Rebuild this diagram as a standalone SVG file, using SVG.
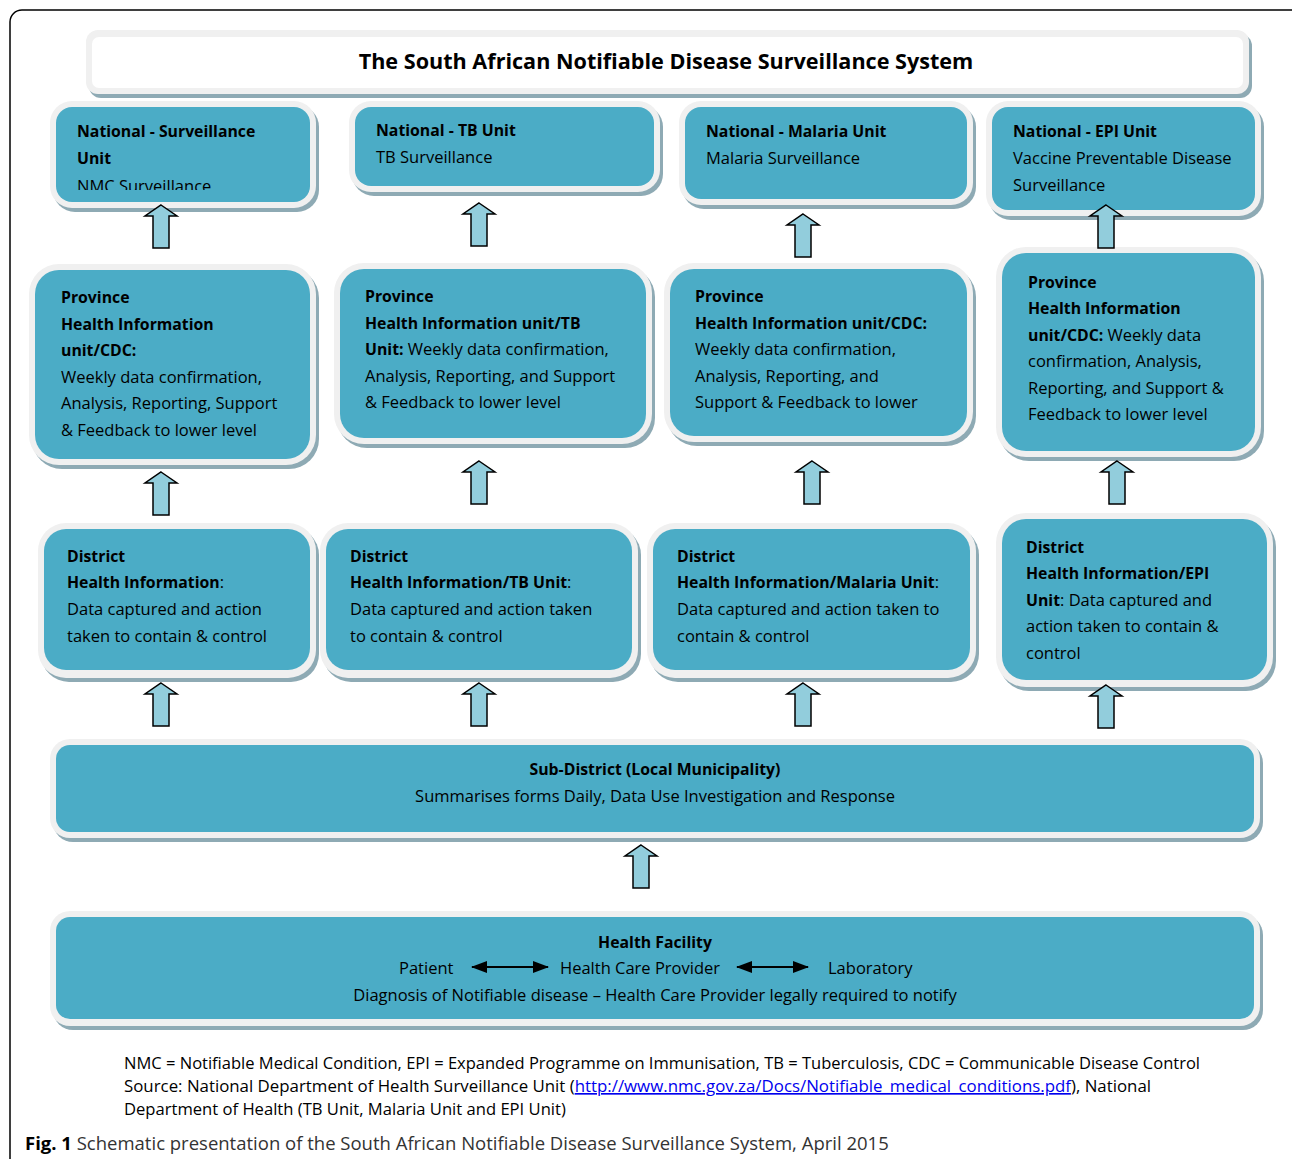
<svg xmlns="http://www.w3.org/2000/svg" width="1292" height="1159" viewBox="0 0 1292 1159">
<style>
.sh{fill:#8eaab4}
.ob{fill:#f0f0f0}
.ib{fill:#4bacc6}
.tb{fill:#ffffff}
text{font-family:"Open Sans","Noto Sans","Liberation Sans",sans-serif;fill:#000}
.t{font-size:16.5px}
.b{font-weight:bold;font-size:15.8px}
.title{font-size:21.6px;font-weight:bold}
.fn{font-size:16.6px}
.cap{font-size:18.5px;fill:#333}
.arr{fill:#92cddc;stroke:#000;stroke-width:1.5;stroke-linejoin:miter}
</style>
<defs>
<path id="up" d="M0,0 L16,11 L8,11 L8,43 L-8,43 L-8,11 L-16,11 Z"/>
<marker id="ah" viewBox="0 0 16 12" refX="15" refY="6" markerWidth="16" markerHeight="12" markerUnits="userSpaceOnUse" orient="auto-start-reverse">
<path d="M0,0 L16,6 L0,12 Z" fill="#000"/>
</marker>
<clipPath id="clipN1"><rect x="56" y="107" width="254" height="83"/></clipPath>
</defs>

<rect x="10" y="10" width="1300" height="1200" rx="12" fill="none" stroke="#000" stroke-width="1.5"/>

<g id="title">
<rect class="sh" x="89" y="34" width="1163" height="64" rx="12"/>
<rect class="ob" x="86" y="30" width="1163" height="64" rx="12"/>
<rect class="tb" x="92" y="37" width="1151" height="51" rx="7"/>
<text class="title" x="666" y="69" text-anchor="middle">The South African Notifiable Disease Surveillance System</text>
</g>

<!-- National row -->
<g id="nat-surv">
<rect class="sh" x="53" y="105" width="266" height="107" rx="22"/>
<rect class="ob" x="50" y="101" width="266" height="107" rx="22"/>
<rect class="ib" x="56" y="107" width="254" height="95" rx="16"/>
<text class="t b" x="77" y="137">National - Surveillance</text>
<text class="t b" x="77" y="164">Unit</text>
<text class="t" x="77" y="192" clip-path="url(#clipN1)">NMC Surveillance</text>
</g>
<g id="nat-tb">
<rect class="sh" x="352" y="105" width="311" height="91" rx="22"/>
<rect class="ob" x="349" y="101" width="311" height="91" rx="22"/>
<rect class="ib" x="355" y="107" width="299" height="79" rx="16"/>
<text class="t b" x="376" y="136">National - TB Unit</text>
<text class="t" x="376" y="163">TB Surveillance</text>
</g>
<g id="nat-malaria">
<rect class="sh" x="682" y="105" width="294" height="104" rx="22"/>
<rect class="ob" x="679" y="101" width="294" height="104" rx="22"/>
<rect class="ib" x="685" y="107" width="282" height="92" rx="16"/>
<text class="t b" x="706" y="137">National - Malaria Unit</text>
<text class="t" x="706" y="164">Malaria Surveillance</text>
</g>
<g id="nat-epi">
<rect class="sh" x="989" y="105" width="275" height="115" rx="22"/>
<rect class="ob" x="986" y="101" width="275" height="115" rx="22"/>
<rect class="ib" x="992" y="107" width="263" height="103" rx="16"/>
<text class="t b" x="1013" y="137">National - EPI Unit</text>
<text class="t" x="1013" y="164">Vaccine Preventable Disease</text>
<text class="t" x="1013" y="191">Surveillance</text>
</g>

<!-- Province row -->
<g id="prov-1">
<rect class="sh" x="32" y="268" width="287" height="201" rx="30"/>
<rect class="ob" x="29" y="264" width="287" height="201" rx="30"/>
<rect class="ib" x="35" y="270" width="275" height="189" rx="24"/>
<text class="t b" x="61" y="303">Province</text>
<text class="t b" x="61" y="330">Health Information</text>
<text class="t b" x="61" y="356">unit/CDC:</text>
<text class="t" x="61" y="383">Weekly data confirmation,</text>
<text class="t" x="61" y="409">Analysis, Reporting, Support</text>
<text class="t" x="61" y="436">&amp; Feedback to lower level</text>
</g>
<g id="prov-tb">
<rect class="sh" x="337" y="267" width="318" height="181" rx="30"/>
<rect class="ob" x="334" y="263" width="318" height="181" rx="30"/>
<rect class="ib" x="340" y="269" width="306" height="169" rx="24"/>
<text class="t b" x="365" y="302">Province</text>
<text class="t b" x="365" y="329">Health Information unit/TB</text>
<text class="t" x="365" y="355"><tspan class="b">Unit:</tspan> Weekly data confirmation,</text>
<text class="t" x="365" y="382">Analysis, Reporting, and Support</text>
<text class="t" x="365" y="408">&amp; Feedback to lower level</text>
</g>
<g id="prov-malaria">
<rect class="sh" x="667" y="267" width="309" height="179" rx="30"/>
<rect class="ob" x="664" y="263" width="309" height="179" rx="30"/>
<rect class="ib" x="670" y="269" width="297" height="167" rx="24"/>
<text class="t b" x="695" y="302">Province</text>
<text class="t b" x="695" y="329">Health Information unit/CDC:</text>
<text class="t" x="695" y="355">Weekly data confirmation,</text>
<text class="t" x="695" y="382">Analysis, Reporting, and</text>
<text class="t" x="695" y="408">Support &amp; Feedback to lower</text>
</g>
<g id="prov-epi">
<rect class="sh" x="999" y="251" width="265" height="210" rx="30"/>
<rect class="ob" x="996" y="247" width="265" height="210" rx="30"/>
<rect class="ib" x="1002" y="253" width="253" height="198" rx="24"/>
<text class="t b" x="1028" y="288">Province</text>
<text class="t b" x="1028" y="314">Health Information</text>
<text class="t" x="1028" y="341"><tspan class="b">unit/CDC:</tspan> Weekly data</text>
<text class="t" x="1028" y="367">confirmation, Analysis,</text>
<text class="t" x="1028" y="394">Reporting, and Support &amp;</text>
<text class="t" x="1028" y="420">Feedback to lower level</text>
</g>

<!-- District row -->
<g id="dist-1">
<rect class="sh" x="41" y="527" width="278" height="155" rx="28"/>
<rect class="ob" x="38" y="523" width="278" height="155" rx="28"/>
<rect class="ib" x="44" y="529" width="266" height="141" rx="22"/>
<text class="t b" x="67" y="562">District</text>
<text class="t" x="67" y="588"><tspan class="b">Health Information</tspan>:</text>
<text class="t" x="67" y="615">Data captured and action</text>
<text class="t" x="67" y="642">taken to contain &amp; control</text>
</g>
<g id="dist-tb">
<rect class="sh" x="323" y="527" width="318" height="155" rx="28"/>
<rect class="ob" x="320" y="523" width="318" height="155" rx="28"/>
<rect class="ib" x="326" y="529" width="306" height="141" rx="22"/>
<text class="t b" x="350" y="562">District</text>
<text class="t" x="350" y="588"><tspan class="b">Health Information/TB Unit</tspan>:</text>
<text class="t" x="350" y="615">Data captured and action taken</text>
<text class="t" x="350" y="642">to contain &amp; control</text>
</g>
<g id="dist-malaria">
<rect class="sh" x="650" y="527" width="329" height="155" rx="28"/>
<rect class="ob" x="647" y="523" width="329" height="155" rx="28"/>
<rect class="ib" x="653" y="529" width="317" height="141" rx="22"/>
<text class="t b" x="677" y="562">District</text>
<text class="t" x="677" y="588"><tspan class="b">Health Information/Malaria Unit</tspan>:</text>
<text class="t" x="677" y="615">Data captured and action taken to</text>
<text class="t" x="677" y="642">contain &amp; control</text>
</g>
<g id="dist-epi">
<rect class="sh" x="999" y="517" width="277" height="174" rx="30"/>
<rect class="ob" x="996" y="513" width="277" height="174" rx="30"/>
<rect class="ib" x="1002" y="519" width="265" height="161" rx="24"/>
<text class="t b" x="1026" y="553">District</text>
<text class="t b" x="1026" y="579">Health Information/EPI</text>
<text class="t" x="1026" y="606"><tspan class="b">Unit</tspan>: Data captured and</text>
<text class="t" x="1026" y="632">action taken to contain &amp;</text>
<text class="t" x="1026" y="659">control</text>
</g>

<!-- Sub-district -->
<g id="subdistrict">
<rect class="sh" x="53" y="743" width="1210" height="99" rx="20"/>
<rect class="ob" x="50" y="739" width="1210" height="99" rx="20"/>
<rect class="ib" x="56" y="745" width="1198" height="87" rx="14"/>
<text class="t b" x="655" y="775" text-anchor="middle">Sub-District (Local Municipality)</text>
<text class="t" x="655" y="802" text-anchor="middle">Summarises forms Daily, Data Use Investigation and Response</text>
</g>

<!-- Health facility -->
<g id="facility">
<rect class="sh" x="53" y="915" width="1210" height="115" rx="20"/>
<rect class="ob" x="50" y="911" width="1210" height="115" rx="20"/>
<rect class="ib" x="56" y="917" width="1198" height="102" rx="14"/>
<text class="t b" x="655" y="948" text-anchor="middle">Health Facility</text>
<text class="t" x="399" y="974">Patient</text>
<text class="t" x="560" y="974">Health Care Provider</text>
<text class="t" x="828" y="974">Laboratory</text>
<text class="t" x="655" y="1001" text-anchor="middle">Diagnosis of Notifiable disease – Health Care Provider legally required to notify</text>
</g>

<g id="connectors">
<line x1="472" y1="967" x2="548" y2="967" stroke="#000" stroke-width="2" marker-start="url(#ah)" marker-end="url(#ah)"/>
<line x1="737" y1="967" x2="808" y2="967" stroke="#000" stroke-width="2" marker-start="url(#ah)" marker-end="url(#ah)"/>
<use href="#up" class="arr" x="161" y="205"/>
<use href="#up" class="arr" x="479" y="203"/>
<use href="#up" class="arr" x="803" y="214"/>
<use href="#up" class="arr" x="1106" y="205"/>
<use href="#up" class="arr" x="161" y="472"/>
<use href="#up" class="arr" x="479" y="461"/>
<use href="#up" class="arr" x="812" y="461"/>
<use href="#up" class="arr" x="1117" y="461"/>
<use href="#up" class="arr" x="161" y="683"/>
<use href="#up" class="arr" x="479" y="683"/>
<use href="#up" class="arr" x="803" y="683"/>
<use href="#up" class="arr" x="1106" y="685"/>
<use href="#up" class="arr" x="641" y="845"/>
</g>

<g id="notes">
<text class="fn" x="124" y="1069" textLength="1076" lengthAdjust="spacingAndGlyphs">NMC = Notifiable Medical Condition, EPI = Expanded Programme on Immunisation, TB = Tuberculosis, CDC = Communicable Disease Control</text>
<text class="fn" x="124" y="1092" textLength="1027" lengthAdjust="spacingAndGlyphs"><tspan>Source: National Department of Health Surveillance Unit (</tspan><tspan fill="#0000ee" text-decoration="underline">http://www.nmc.gov.za/Docs/Notifiable_medical_conditions.pdf</tspan><tspan>), National</tspan></text>
<text class="fn" x="124" y="1115">Department of Health (TB Unit, Malaria Unit and EPI Unit)</text>
<text class="cap" x="25" y="1150"><tspan font-weight="bold" fill="#000">Fig. 1</tspan> Schematic presentation of the South African Notifiable Disease Surveillance System, April 2015</text>
</g>
</svg>
